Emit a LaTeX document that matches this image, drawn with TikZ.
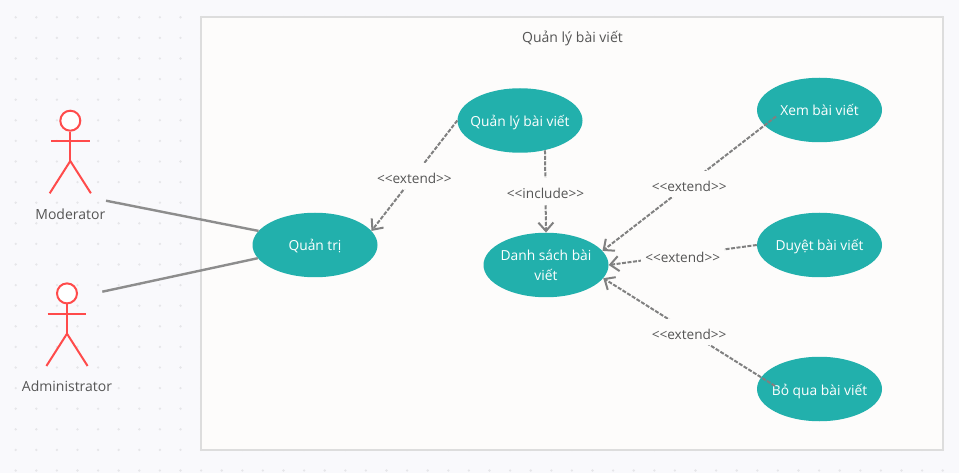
\documentclass[tikz,border=0pt]{standalone}
\usepackage{fontspec}
\setmainfont{Open Sans}
\usetikzlibrary{shapes.geometric,arrows.meta}
\definecolor{pagebg}{HTML}{F9F9FC}
\definecolor{griddot}{HTML}{E6E6E9}
\definecolor{boxfill}{HTML}{FDFCFB}
\definecolor{boxline}{HTML}{DDDDDD}
\definecolor{usecasefill}{HTML}{22B0AC}
\definecolor{actorline}{HTML}{FF4B4B}
\definecolor{linkline}{HTML}{808080}
\definecolor{labeltext}{HTML}{555555}

\begin{document}
\begin{tikzpicture}[ x=1pt, y=-1pt, >={Straight Barb[length=8.5pt,width=15pt]},
        griddot/.style={ fill=griddot, circle, minimum width=2.6pt, inner sep=0pt },
        usecase/.style={ ellipse, fill=usecasefill, text=white, inner ysep=0pt, inner xsep=-12pt,
          minimum width=125pt, minimum height=64.5pt, font=\fontsize{13.8}{20}\selectfont,
          align=center, text height=12pt, text depth=0pt },
        association/.style={ draw=linkline!90!white, line width=2.4pt },
        dependency/.style={ ->, draw=linkline, line width=2pt, dash pattern=on 4pt off 1.5pt },
        stereotype/.style={ fill=boxfill, text=labeltext, inner xsep=4pt, inner ysep=0pt,
          minimum height=26pt, font=\fontsize{13.6}{15}\selectfont, text height=15pt, text depth=0pt },
        actorname/.style={ text=labeltext, inner sep=0pt, font=\fontsize{14}{16}\selectfont },
        actor/.style={ draw=actorline, line width=2pt } ]
        \useasboundingbox (0,0) rectangle (959,473);
        \fill[pagebg] (0,0) rectangle (959,473);

        \foreach \i in {0,...,46} \foreach \j in {0,...,22}
        \node[griddot] (dot\i-\j) at (15.7+20.6*\i,17.3+20.6*\j) {};

        \node[draw=boxline,fill=boxfill,line width=2pt,minimum width=742pt,minimum height=433pt,
          inner sep=0pt] (system) at (572,233.5) {};
        \node[actorname] (title) at (572.5,38.5) {Quản lý bài viết};

        % actors
        \foreach \x/\y/\l/\n in {70.3/120.7/Moderator/moderator,67/293.4/Administrator/administrator} {
        \node[actor,circle,fill=white,minimum width=20pt,inner sep=0pt] (\n head) at (\x,\y) {};
        \draw[actor] (\n head.south) -- ++(0,29.3) coordinate (\n hip);
        \draw[actor] (\x-19.3,\y+20.3) -- (\x+19.3,\y+20.3);
        \draw[actor] (\x-20.6,\y+72.6) -- (\n hip) -- (\x+20.6,\y+72.6);
        \node[actorname] (\n) at (\x,\y+93.3) {\l};
        }

        % use cases
        \node[usecase] (quantri) at (315,245) {Quản trị};
        \node[usecase] (quanly) at (520,120.5) {Quản lý bài viết};
        \node[usecase,text height=31.4pt] (danhsach) at (546,265) {Danh sách bài\\viết};
        \node[usecase] (xem) at (819.5,110) {Xem bài viết};
        \node[usecase] (duyet) at (819.5,245) {Duyệt bài viết};
        \node[usecase] (boqua) at (819.5,389) {Bỏ qua bài viết};

        \coordinate (moderatorend) at (106,200.7);
        \coordinate (administratorend) at (102.3,291.7);
        \coordinate (xemend) at (776,116.5);
        \coordinate (boquaend) at (775,386);

        \draw[association] (moderatorend) -- (quantri.166);
        \draw[association] (administratorend) -- (quantri.193);

        \draw[dependency] (quanly.west) -- node[stereotype] {<{}<extend>{}>} (quantri.14);
        \draw[dependency] (quanly.-50) -- node[stereotype] {<{}<include>{}>} (danhsach.north);
        \draw[dependency] (xemend) -- node[stereotype] {<{}<extend>{}>} (danhsach.14);
        \draw[dependency] (duyet.west) -- node[stereotype] {<{}<extend>{}>} (danhsach.east);
        \draw[dependency] (boquaend) -- node[stereotype] {<{}<extend>{}>} (danhsach.-13);
      \end{tikzpicture}
\end{document}
